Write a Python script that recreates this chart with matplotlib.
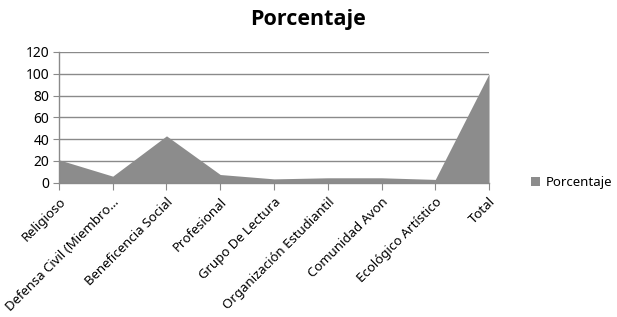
import matplotlib.pyplot as plt

plt.rcParams["font.family"] = ["Noto Sans", "DejaVu Sans"]

CATEGORIES = [
    "Religioso",
    "Defensa Civil (Miembro…",
    "Beneficencia Social",
    "Profesional",
    "Grupo De Lectura",
    "Organización Estudiantil",
    "Comunidad Avon",
    "Ecológico Artístico",
    "Total",
]
PORCENTAJE = [21, 6, 43, 7.5, 3.5, 4.5, 4.5, 3, 100]
Y_TICKS = [0, 20, 40, 60, 80, 100, 120]

FILL = "#8c8c8c"
GRID = "#8a8a8a"


def main():
    fig = plt.figure(figsize=(6.17, 3.17), dpi=100)
    ax = fig.add_axes([0.0956, 0.4237, 0.697, 0.4123])

    x = list(range(len(CATEGORIES)))
    ax.fill_between(x, 0, PORCENTAJE, color=FILL, linewidth=0, label="Porcentaje", zorder=2)

    ax.set_xlim(0, len(CATEGORIES) - 1)
    ax.set_ylim(0, 120)
    ax.set_yticks(Y_TICKS)
    ax.yaxis.grid(True, color=GRID, linewidth=1.0, zorder=1)
    ax.set_axisbelow(True)

    ax.set_xticks(x)
    ax.set_xticklabels(CATEGORIES, rotation=45, ha="right", rotation_mode="anchor", fontsize=9.5)
    ax.tick_params(axis="y", labelsize=10, length=4, color=GRID, pad=3)
    ax.tick_params(axis="x", length=5, color=GRID, pad=4)

    for side in ("top", "right"):
        ax.spines[side].set_visible(False)
    for side in ("left", "bottom"):
        ax.spines[side].set_color(GRID)
        ax.spines[side].set_linewidth(1.0)

    fig.text(0.5, 0.94, "Porcentaje", ha="center", va="center", fontsize=15.5,
             fontweight="bold", family=["Open Sans", "DejaVu Sans"])

    ax.legend(
        loc="center left",
        bbox_to_anchor=(1.07, 0.0),
        frameon=False,
        fontsize=9.5,
        handlelength=0.7,
        handleheight=0.7,
        handletextpad=0.4,
    )

    fig.savefig("out.png", dpi=100, facecolor="white")
    plt.close(fig)


if __name__ == "__main__":
    main()
